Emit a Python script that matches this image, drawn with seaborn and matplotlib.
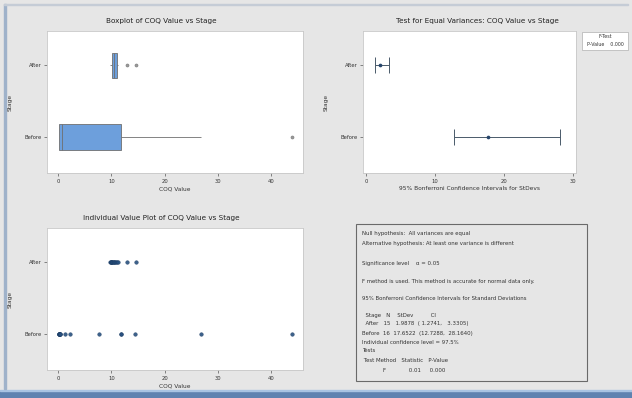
import numpy as np
import pandas as pd
import matplotlib
matplotlib.use("Agg")
import matplotlib.pyplot as plt
from matplotlib.patches import Rectangle
import seaborn as sns

# ---- data -------------------------------------------------------------
stages = ["After", "Before"]
after_values = [9.7, 9.9, 10.0, 10.0, 10.1, 10.2, 10.3, 10.4, 10.5, 10.7,
                10.9, 11.1, 11.3, 13.0, 14.7]
before_values = [0.1, 0.1, 0.2, 0.2, 0.2, 0.3, 0.3, 0.4, 1.2, 2.2,
                 7.7, 11.8, 11.8, 14.4, 26.8, 43.9]

# Bonferroni confidence intervals for the standard deviations
ci_n = [15, 16]
ci_stdev = [1.9878, 17.6522]
ci_lower = [1.2741, 12.7288]
ci_upper = [3.3305, 28.1640]
f_statistic = "0.01"
p_value = "0.000"

value_ticks = [0, 10, 20, 30, 40]
ci_ticks = [0, 10, 20, 30]

df = pd.DataFrame({
    "Stage": ["After"] * len(after_values) + ["Before"] * len(before_values),
    "COQ Value": after_values + before_values,
})
ci_df = pd.DataFrame({"Stage": stages, "StDev": ci_stdev,
                      "Lower": ci_lower, "Upper": ci_upper})

# ---- figure -----------------------------------------------------------
sns.set_theme(style="white")
plt.rcParams["font.family"] = ["DejaVu Sans"]
W, H = 632, 398
BG = "#e6e6e6"
fig = plt.figure(figsize=(W / 100, H / 100), dpi=100, facecolor=BG)


def rect(x0, y0, x1, y1):
    return [x0 / W, 1 - y1 / H, (x1 - x0) / W, (y1 - y0) / H]


def fy(y):
    return 1 - y / H


def style_axes(ax):
    ax.set_facecolor("white")
    for s in ax.spines.values():
        s.set_color("#c8c8c8")
        s.set_linewidth(0.6)
    ax.tick_params(axis="both", labelsize=3.8, colors="#333333", length=2,
                   width=0.4, pad=2, direction="out")
    ax.tick_params(axis="x", bottom=True)
    ax.tick_params(axis="y", left=True)


TITLE_KW = dict(fontsize=5.2, color="#222222", pad=6)
LABEL_KW = dict(fontsize=4.2, color="#333333")

# window frame
fig.add_artist(Rectangle((0, 0), 1, 7 / H, transform=fig.transFigure,
                         color="#5f82b0", zorder=0))
fig.add_artist(Rectangle((0, 7 / H), 1, 1.5 / H, transform=fig.transFigure,
                         color="#a9c3e2", zorder=0))
fig.add_artist(Rectangle((4 / W, 9 / H), 1.5 / W, 1 - 13 / H,
                         transform=fig.transFigure, color="#9fb2ca", zorder=0))
fig.add_artist(Rectangle((4 / W, 1 - 5 / H), 1 - 8 / W, 1 / H,
                         transform=fig.transFigure, color="#c5ccd6", zorder=0))

# ---- boxplot -----------------------------------------------------------
ax1 = fig.add_axes(rect(47, 31, 303, 173))
sns.boxplot(data=df, x="COQ Value", y="Stage", order=stages, orient="h",
            color="#6d9fdc", width=0.36, linewidth=0.6, linecolor="#6f6f6f",
            showcaps=False, saturation=1, fliersize=2.2,
            flierprops=dict(marker="o", markerfacecolor="#9a9a9a",
                            markeredgecolor="#7a7a7a", markeredgewidth=0.4),
            ax=ax1)
ax1.set_xlim(-2.1, 46.0)
ax1.set_ylim(1.5, -0.48)
ax1.set_xticks(value_ticks)
ax1.set_title("Boxplot of COQ Value vs Stage", x=0.445, **TITLE_KW)
ax1.set_xlabel("COQ Value", labelpad=2, **LABEL_KW)
ax1.set_ylabel("Stage", labelpad=8, **LABEL_KW)
style_axes(ax1)

# ---- individual value plot ---------------------------------------------
ax3 = fig.add_axes(rect(47, 228, 303, 370))
sns.stripplot(data=df, x="COQ Value", y="Stage", order=stages, orient="h",
              jitter=False, color="#27507f", size=2.6, linewidth=0.3,
              edgecolor="#1b3a60", alpha=0.9, ax=ax3)
ax3.set_xlim(-2.1, 46.0)
ax3.set_ylim(1.5, -0.48)
ax3.set_xticks(value_ticks)
ax3.set_title("Individual Value Plot of COQ Value vs Stage", x=0.445,
              **TITLE_KW)
ax3.set_xlabel("COQ Value", labelpad=2, **LABEL_KW)
ax3.set_ylabel("Stage", labelpad=8, **LABEL_KW)
style_axes(ax3)

# ---- test for equal variances -------------------------------------------
ax2 = fig.add_axes(rect(363, 31, 576, 173))
ypos = np.arange(len(stages))
ax2.errorbar(ci_df["StDev"], ypos,
             xerr=[ci_df["StDev"] - ci_df["Lower"], ci_df["Upper"] - ci_df["StDev"]],
             fmt="none", ecolor="#4a5a6a", elinewidth=0.7, capsize=5.5,
             capthick=0.7)
sns.scatterplot(data=ci_df, x="StDev", y=ypos, color="#26456b", s=7,
                marker="o", linewidth=0, ax=ax2, zorder=3)
ax2.set_yticks(ypos)
ax2.set_yticklabels(stages)
ax2.set_xlim(-0.44, 30.44)
ax2.set_ylim(1.5, -0.48)
ax2.set_xticks(ci_ticks)
ax2.set_title("Test for Equal Variances: COQ Value vs Stage", x=0.535,
              **TITLE_KW)
ax2.set_xlabel("95% Bonferroni Confidence Intervals for StDevs", labelpad=2,
               **LABEL_KW)
ax2.set_ylabel("Stage", labelpad=8, **LABEL_KW)
style_axes(ax2)

# legend box with the test result
fig.add_artist(Rectangle((582 / W, fy(50)), 46 / W, 18 / H,
                         transform=fig.transFigure, facecolor="white",
                         edgecolor="#b0b0b0", linewidth=0.5))
fig.text(605 / W, fy(37), "F-Test", fontsize=3.4, ha="center", va="center",
         color="#333333")
fig.text(605 / W, fy(44), f"P-Value    {p_value}", fontsize=3.4,
         ha="center", va="center", color="#333333")

# ---- results text box -----------------------------------------------------
fig.add_artist(Rectangle((356 / W, fy(381)), 231 / W, 157 / H,
                         transform=fig.transFigure, facecolor="none",
                         edgecolor="#6a6a6a", linewidth=0.8))
lines = [
    (234, "Null hypothesis:  All variances are equal"),
    (243, "Alternative hypothesis: At least one variance is different"),
    (263, "Significance level    \u03b1 = 0.05"),
    (282, "F method is used. This method is accurate for normal data only."),
    (299, "95% Bonferroni Confidence Intervals for Standard Deviations"),
    (315, "  Stage   N    StDev          CI"),
    (324, f"  {stages[0]}   {ci_n[0]}   {ci_stdev[0]:.4f}  ( {ci_lower[0]:.4f},   {ci_upper[0]:.4f})"),
    (333, f"Before  {ci_n[1]}  {ci_stdev[1]:.4f}  ({ci_lower[1]:.4f},  {ci_upper[1]:.4f})"),
    (342, "Individual confidence level = 97.5%"),
    (351, "Tests"),
    (361, " Test Method   Statistic   P-Value"),
    (370, f"            F             {f_statistic}     {p_value}"),
]
for y, txt in lines:
    fig.text(362 / W, fy(y), txt, fontsize=3.9, ha="left", va="center",
             color="#333333")

fig.savefig("out.png", dpi=100, facecolor=BG)
